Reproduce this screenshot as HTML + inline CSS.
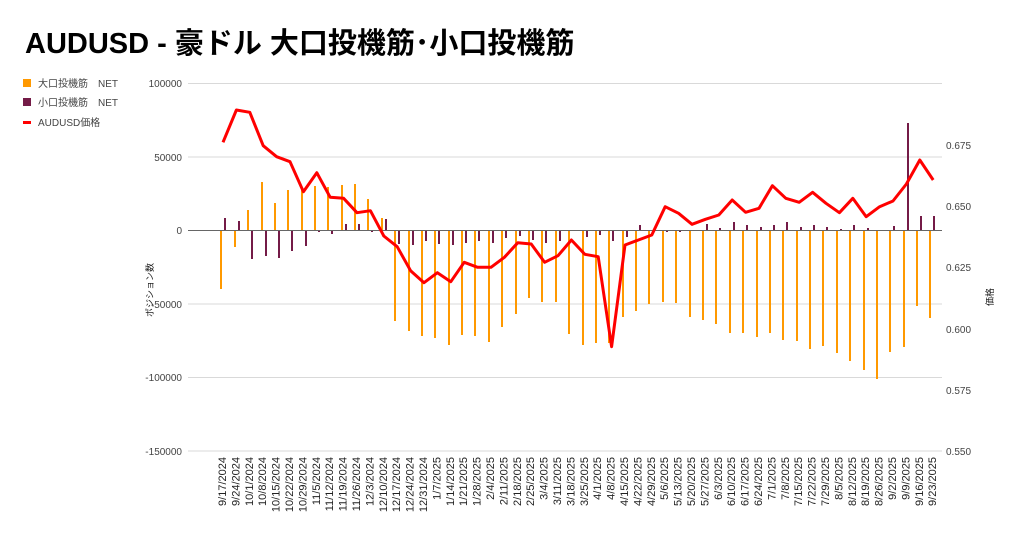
<!DOCTYPE html>
<html><head><meta charset="utf-8"><style>
body{margin:0;background:#fff;width:1024px;height:534px;overflow:hidden}
svg{display:block;font-family:"Liberation Sans","Noto Sans CJK JP",sans-serif}
</style></head><body>
<svg width="1024" height="534" viewBox="0 0 1024 534">
<text x="25" y="53" font-size="29" font-weight="bold" fill="#000">AUDUSD - 豪ドル 大口投機筋･小口投機筋</text>
<rect x="23" y="79" width="8" height="8" fill="#ff9900"/>
<text x="38" y="87" font-size="10" fill="#444">大口投機筋　NET</text>
<rect x="23" y="98" width="8" height="8" fill="#741b47"/>
<text x="38" y="106" font-size="10" fill="#444">小口投機筋　NET</text>
<rect x="23" y="121" width="8" height="3" fill="#ff0000"/>
<text x="38" y="126" font-size="10" fill="#444">AUDUSD価格</text>
<g stroke="#d9d9d9" stroke-width="1">
<line x1="188" x2="942" y1="83.5" y2="83.5"/><line x1="188" x2="942" y1="157" y2="157"/>
<line x1="188" x2="942" y1="304" y2="304"/><line x1="188" x2="942" y1="377.5" y2="377.5"/><line x1="188" x2="942" y1="451" y2="451"/>
</g>
<g font-size="10" fill="#444" text-anchor="end">
<text x="182" y="87">100000</text><text x="182" y="161">50000</text><text x="182" y="234">0</text>
<text x="182" y="308">-50000</text><text x="182" y="381">-100000</text><text x="182" y="455">-150000</text>
</g>
<g font-size="10" fill="#444">
<text x="946" y="149">0.675</text><text x="946" y="210">0.650</text><text x="946" y="271">0.625</text>
<text x="946" y="333">0.600</text><text x="946" y="394">0.575</text><text x="946" y="455">0.550</text>
</g>
<text transform="translate(153,290) rotate(-90)" font-size="9" fill="#222" text-anchor="middle">ポジション数</text>
<text transform="translate(993,297) rotate(-90)" font-size="9" fill="#222" text-anchor="middle">価格</text>
<g fill="#ff9900">
<rect x="220" y="230" width="2" height="59"/>
<rect x="234" y="230" width="2" height="17"/>
<rect x="247" y="210" width="2" height="20"/>
<rect x="261" y="182" width="2" height="48"/>
<rect x="274" y="203" width="2" height="27"/>
<rect x="287" y="190" width="2" height="40"/>
<rect x="301" y="190" width="2" height="40"/>
<rect x="314" y="186" width="2" height="44"/>
<rect x="327" y="187" width="2" height="43"/>
<rect x="341" y="185" width="2" height="45"/>
<rect x="354" y="184" width="2" height="46"/>
<rect x="367" y="199" width="2" height="31"/>
<rect x="381" y="218" width="2" height="12"/>
<rect x="394" y="230" width="2" height="91"/>
<rect x="408" y="230" width="2" height="101"/>
<rect x="421" y="230" width="2" height="106"/>
<rect x="434" y="230" width="2" height="108"/>
<rect x="448" y="230" width="2" height="115"/>
<rect x="461" y="230" width="2" height="105"/>
<rect x="474" y="230" width="2" height="106"/>
<rect x="488" y="230" width="2" height="112"/>
<rect x="501" y="230" width="2" height="97"/>
<rect x="515" y="230" width="2" height="84"/>
<rect x="528" y="230" width="2" height="68"/>
<rect x="541" y="230" width="2" height="72"/>
<rect x="555" y="230" width="2" height="72"/>
<rect x="568" y="230" width="2" height="104"/>
<rect x="582" y="230" width="2" height="115"/>
<rect x="595" y="230" width="2" height="113"/>
<rect x="608" y="230" width="2" height="113"/>
<rect x="622" y="230" width="2" height="87"/>
<rect x="635" y="230" width="2" height="81"/>
<rect x="648" y="230" width="2" height="74"/>
<rect x="662" y="230" width="2" height="72"/>
<rect x="675" y="230" width="2" height="73"/>
<rect x="689" y="230" width="2" height="87"/>
<rect x="702" y="230" width="2" height="90"/>
<rect x="715" y="230" width="2" height="94"/>
<rect x="729" y="230" width="2" height="103"/>
<rect x="742" y="230" width="2" height="103"/>
<rect x="756" y="230" width="2" height="107"/>
<rect x="769" y="230" width="2" height="103"/>
<rect x="782" y="230" width="2" height="110"/>
<rect x="796" y="230" width="2" height="111"/>
<rect x="809" y="230" width="2" height="119"/>
<rect x="822" y="230" width="2" height="116"/>
<rect x="836" y="230" width="2" height="123"/>
<rect x="849" y="230" width="2" height="131"/>
<rect x="863" y="230" width="2" height="140"/>
<rect x="876" y="230" width="2" height="149"/>
<rect x="889" y="230" width="2" height="122"/>
<rect x="903" y="230" width="2" height="117"/>
<rect x="916" y="230" width="2" height="76"/>
<rect x="929" y="230" width="2" height="88"/>
</g>
<g fill="#741b47">
<rect x="224" y="218" width="2" height="12"/>
<rect x="238" y="221" width="2" height="9"/>
<rect x="251" y="230" width="2" height="29"/>
<rect x="265" y="230" width="2" height="26"/>
<rect x="278" y="230" width="2" height="28"/>
<rect x="291" y="230" width="2" height="21"/>
<rect x="305" y="230" width="2" height="16"/>
<rect x="318" y="230" width="2" height="2"/>
<rect x="331" y="230" width="2" height="4"/>
<rect x="345" y="224" width="2" height="6"/>
<rect x="358" y="224" width="2" height="6"/>
<rect x="371" y="230" width="2" height="2"/>
<rect x="385" y="219" width="2" height="11"/>
<rect x="398" y="230" width="2" height="14"/>
<rect x="412" y="230" width="2" height="15"/>
<rect x="425" y="230" width="2" height="11"/>
<rect x="438" y="230" width="2" height="14"/>
<rect x="452" y="230" width="2" height="15"/>
<rect x="465" y="230" width="2" height="13"/>
<rect x="478" y="230" width="2" height="11"/>
<rect x="492" y="230" width="2" height="13"/>
<rect x="505" y="230" width="2" height="8"/>
<rect x="519" y="230" width="2" height="6"/>
<rect x="532" y="230" width="2" height="10"/>
<rect x="545" y="230" width="2" height="13"/>
<rect x="559" y="230" width="2" height="11"/>
<rect x="586" y="230" width="2" height="7"/>
<rect x="599" y="230" width="2" height="5"/>
<rect x="612" y="230" width="2" height="11"/>
<rect x="626" y="230" width="2" height="7"/>
<rect x="639" y="225" width="2" height="5"/>
<rect x="666" y="230" width="2" height="2"/>
<rect x="679" y="230" width="2" height="2"/>
<rect x="706" y="224" width="2" height="6"/>
<rect x="719" y="228" width="2" height="2"/>
<rect x="733" y="222" width="2" height="8"/>
<rect x="746" y="225" width="2" height="5"/>
<rect x="760" y="227" width="2" height="3"/>
<rect x="773" y="225" width="2" height="5"/>
<rect x="786" y="222" width="2" height="8"/>
<rect x="800" y="227" width="2" height="3"/>
<rect x="813" y="225" width="2" height="5"/>
<rect x="826" y="227" width="2" height="3"/>
<rect x="840" y="229" width="2" height="1"/>
<rect x="853" y="225" width="2" height="5"/>
<rect x="867" y="228" width="2" height="2"/>
<rect x="893" y="226" width="2" height="4"/>
<rect x="907" y="123" width="2" height="107"/>
<rect x="920" y="216" width="2" height="14"/>
<rect x="933" y="216" width="2" height="14"/>
</g>
<line x1="188" x2="942" y1="230.5" y2="230.5" stroke="#666" stroke-width="1"/>
<polyline fill="none" stroke="#ff0000" stroke-width="3" stroke-linejoin="round" points="223,142.3 236.4,110 249.8,112.3 263.2,145.7 276.6,156.7 290,161.7 303.4,191.7 316.8,172.7 330.2,197.3 343.6,198.3 357,212.7 370.4,210.7 383.8,236 397.2,246.7 410.6,270.7 424,282.7 437.4,272.7 450.8,281.7 464.2,262.3 477.6,267.3 491,267.3 504.4,257.3 517.8,242.7 531.2,244 544.6,262.3 558,255.7 571.4,240 584.8,254.3 598.2,256.7 611.6,346.7 625,245 638.4,240 651.8,235 665.2,206.7 678.6,213.3 692,224.3 705.4,219.3 718.8,215 732.2,200 745.6,212.3 759,208.3 772.4,185.7 785.8,198.3 799.2,202.3 812.6,192.3 826,203.3 839.4,212.7 852.8,198.3 866.2,216.7 879.6,206.7 893,201 906.4,184 919.8,160 933.2,180"/>
<g font-size="11" fill="#222" text-anchor="end">
<text transform="translate(226,457) rotate(-90)">9/17/2024</text>
<text transform="translate(239.4,457) rotate(-90)">9/24/2024</text>
<text transform="translate(252.8,457) rotate(-90)">10/1/2024</text>
<text transform="translate(266.2,457) rotate(-90)">10/8/2024</text>
<text transform="translate(279.6,457) rotate(-90)">10/15/2024</text>
<text transform="translate(293,457) rotate(-90)">10/22/2024</text>
<text transform="translate(306.4,457) rotate(-90)">10/29/2024</text>
<text transform="translate(319.8,457) rotate(-90)">11/5/2024</text>
<text transform="translate(333.2,457) rotate(-90)">11/12/2024</text>
<text transform="translate(346.6,457) rotate(-90)">11/19/2024</text>
<text transform="translate(360,457) rotate(-90)">11/26/2024</text>
<text transform="translate(373.4,457) rotate(-90)">12/3/2024</text>
<text transform="translate(386.8,457) rotate(-90)">12/10/2024</text>
<text transform="translate(400.2,457) rotate(-90)">12/17/2024</text>
<text transform="translate(413.6,457) rotate(-90)">12/24/2024</text>
<text transform="translate(427,457) rotate(-90)">12/31/2024</text>
<text transform="translate(440.4,457) rotate(-90)">1/7/2025</text>
<text transform="translate(453.8,457) rotate(-90)">1/14/2025</text>
<text transform="translate(467.2,457) rotate(-90)">1/21/2025</text>
<text transform="translate(480.6,457) rotate(-90)">1/28/2025</text>
<text transform="translate(494,457) rotate(-90)">2/4/2025</text>
<text transform="translate(507.4,457) rotate(-90)">2/11/2025</text>
<text transform="translate(520.8,457) rotate(-90)">2/18/2025</text>
<text transform="translate(534.2,457) rotate(-90)">2/25/2025</text>
<text transform="translate(547.6,457) rotate(-90)">3/4/2025</text>
<text transform="translate(561,457) rotate(-90)">3/11/2025</text>
<text transform="translate(574.4,457) rotate(-90)">3/18/2025</text>
<text transform="translate(587.8,457) rotate(-90)">3/25/2025</text>
<text transform="translate(601.2,457) rotate(-90)">4/1/2025</text>
<text transform="translate(614.6,457) rotate(-90)">4/8/2025</text>
<text transform="translate(628,457) rotate(-90)">4/15/2025</text>
<text transform="translate(641.4,457) rotate(-90)">4/22/2025</text>
<text transform="translate(654.8,457) rotate(-90)">4/29/2025</text>
<text transform="translate(668.2,457) rotate(-90)">5/6/2025</text>
<text transform="translate(681.6,457) rotate(-90)">5/13/2025</text>
<text transform="translate(695,457) rotate(-90)">5/20/2025</text>
<text transform="translate(708.4,457) rotate(-90)">5/27/2025</text>
<text transform="translate(721.8,457) rotate(-90)">6/3/2025</text>
<text transform="translate(735.2,457) rotate(-90)">6/10/2025</text>
<text transform="translate(748.6,457) rotate(-90)">6/17/2025</text>
<text transform="translate(762,457) rotate(-90)">6/24/2025</text>
<text transform="translate(775.4,457) rotate(-90)">7/1/2025</text>
<text transform="translate(788.8,457) rotate(-90)">7/8/2025</text>
<text transform="translate(802.2,457) rotate(-90)">7/15/2025</text>
<text transform="translate(815.6,457) rotate(-90)">7/22/2025</text>
<text transform="translate(829,457) rotate(-90)">7/29/2025</text>
<text transform="translate(842.4,457) rotate(-90)">8/5/2025</text>
<text transform="translate(855.8,457) rotate(-90)">8/12/2025</text>
<text transform="translate(869.2,457) rotate(-90)">8/19/2025</text>
<text transform="translate(882.6,457) rotate(-90)">8/26/2025</text>
<text transform="translate(896,457) rotate(-90)">9/2/2025</text>
<text transform="translate(909.4,457) rotate(-90)">9/9/2025</text>
<text transform="translate(922.8,457) rotate(-90)">9/16/2025</text>
<text transform="translate(936.2,457) rotate(-90)">9/23/2025</text>
</g>
</svg>
</body></html>
